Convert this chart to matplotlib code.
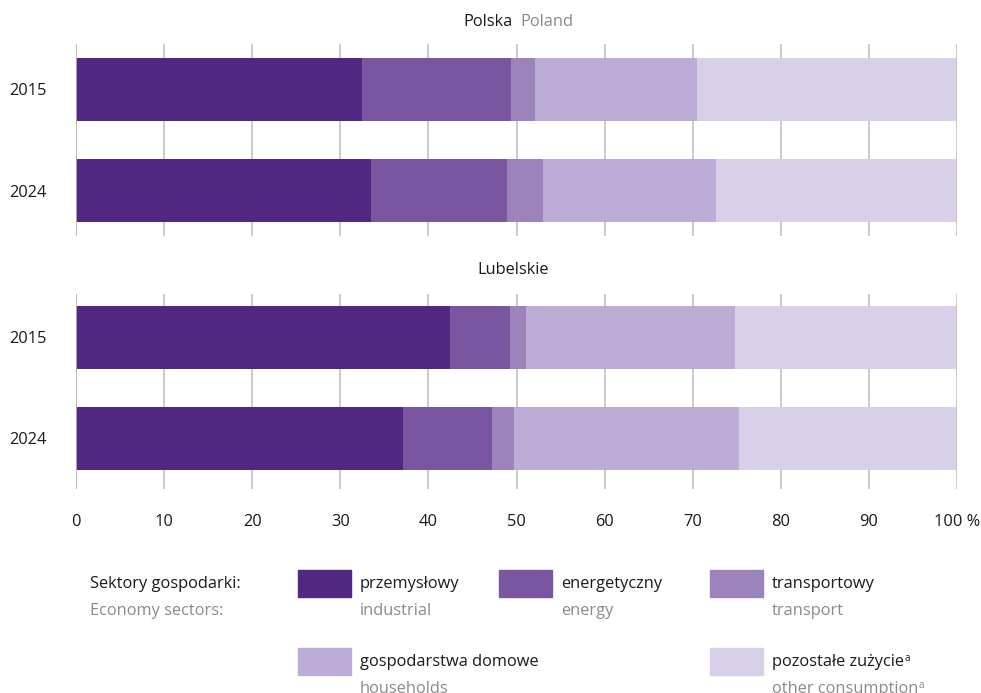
import numpy as np
import matplotlib.pyplot as plt

plt.rcParams['font.family'] = ['Open Sans', 'DejaVu Sans']

years = ['2015', '2024']
sectors_pl = ['przemysłowy', 'energetyczny', 'transportowy', 'gospodarstwa domowe', 'pozostałe zużycie']
sectors_en = ['industrial', 'energy', 'transport', 'households', 'other consumption']
colors = ['#512781', '#7b56a0', '#9d83bb', '#bdadd6', '#d8d0e8']
x_ticks = [0, 10, 20, 30, 40, 50, 60, 70, 80, 90, 100]
x_labels = ['0', '10', '20', '30', '40', '50', '60', '70', '80', '90', '100 %']

# shares in %, one row per sector, columns = years
polska = [[32.5, 33.5], [16.9, 15.4], [2.7, 4.1], [18.4, 19.6], [29.5, 27.4]]
lubelskie = [[42.5, 37.1], [6.8, 10.1], [1.8, 2.5], [23.7, 25.6], [25.2, 24.7]]

W, H = 981, 693
fig = plt.figure(figsize=(W / 100, H / 100), dpi=100)

BLACK = '#1a1a1a'
GREY = '#8a8a8a'
FS = 11.8


def px_axes(x0, y0, x1, y1):
    return fig.add_axes([x0 / W, 1 - y1 / H, (x1 - x0) / W, (y1 - y0) / H])


def draw_panel(ax, data, ylim, show_x):
    ypos = np.arange(len(years))
    left = np.zeros(len(years))
    for vals, c in zip(data, colors):
        ax.barh(ypos, vals, left=left, height=0.63, color=c, zorder=2)
        left += np.array(vals)
    # grid: outer lines drawn over the bars, inner ones behind
    for x in x_ticks:
        edge = x in (0, 100)
        ax.axvline(x, color='#b4b4b4' if x == 0 else '#c6c6c6', lw=1.3,
                   zorder=3 if edge else 1)
    ax.set_xlim(0, 100)
    ax.set_ylim(ylim)
    ax.set_yticks(ypos, years)
    ax.set_xticks(x_ticks, x_labels if show_x else [])
    ax.tick_params(length=0, labelsize=FS, labelcolor=BLACK)
    ax.tick_params(axis='y', pad=21)
    ax.tick_params(axis='x', pad=18)
    for s in ax.spines.values():
        s.set_visible(False)


ax1 = px_axes(76, 44, 957, 236)
draw_panel(ax1, polska, (1.45, -0.45), False)
ax2 = px_axes(76, 294, 957, 489)
draw_panel(ax2, lubelskie, (1.5, -0.43), True)

# panel titles
fig.text(513 / W, 1 - 22 / H, 'Polska', ha='right', va='center', fontsize=FS, color=BLACK)
fig.text(520 / W, 1 - 22 / H, 'Poland', ha='left', va='center', fontsize=FS, color=GREY)
fig.text(513 / W, 1 - 270 / H, 'Lubelskie', ha='center', va='center', fontsize=FS, color=BLACK)

# legend
fig.text(90 / W, 1 - 584 / H, 'Sektory gospodarki:', ha='left', va='center', fontsize=FS, color=BLACK)
fig.text(90 / W, 1 - 611 / H, 'Economy sectors:', ha='left', va='center', fontsize=FS, color=GREY)

slots = [(298, 570), (499, 570), (710, 570), (298, 648), (710, 648)]
for i, (sx, sy) in enumerate(slots):
    fig.patches.append(plt.Rectangle((sx / W, 1 - (sy + 27) / H), 53 / W, 27 / H,
                                     transform=fig.transFigure, color=colors[i]))
    t1 = fig.text((sx + 62) / W, 1 - (sy + 14) / H, sectors_pl[i], ha='left', va='center',
                  fontsize=FS, color=BLACK)
    t2 = fig.text((sx + 62) / W, 1 - (sy + 41) / H, sectors_en[i], ha='left', va='center',
                  fontsize=FS, color=GREY)
    if i == 4:
        # footnote mark "a"
        for t, c in ((t1, BLACK), (t2, GREY)):
            ax2.annotate('a', xy=(1, 0.55), xycoords=t, xytext=(0.3, 0), textcoords='offset points',
                         ha='left', va='baseline', fontsize=7, color=c, annotation_clip=False)

fig.savefig('out.png', dpi=100)
